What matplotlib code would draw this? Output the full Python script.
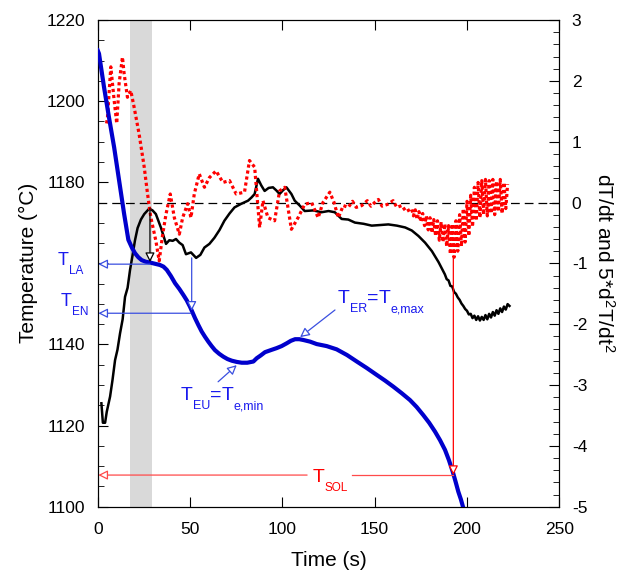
import matplotlib
matplotlib.use('Agg')
import matplotlib.pyplot as plt
from matplotlib.ticker import MultipleLocator
from matplotlib.transforms import blended_transform_factory

plt.rcParams['font.family'] = ['Liberation Sans', 'DejaVu Sans']
plt.rcParams['mathtext.fontset'] = 'custom'
plt.rcParams['mathtext.rm'] = 'Liberation Sans'
plt.rcParams['mathtext.it'] = 'Liberation Sans'
plt.rcParams['axes.unicode_minus'] = False

# temperature curve (left axis)
t_temp = [0.0, 0.7, 3.4, 6.1, 8.9, 11.6, 14.3, 16.6, 18.5, 20.2, 22.0, 23.8,
          26.0, 28.3, 31.0, 33.7, 35.6, 37.4, 39.6, 41.9, 44.2, 46.4, 48.2,
          50.0, 52.7, 54.5, 56.3, 58.1, 59.9, 61.7, 63.5, 65.8, 68.0, 70.3,
          72.6, 75.3, 78.0, 81.0, 84.3, 86.1, 88.3, 90.6, 93.7, 96.9, 99.6,
          102.4, 104.6, 106.9, 109.2, 111.4, 115.0, 118.6, 124.0, 129.4, 135.0,
          140.3, 145.7, 151.1, 155.6, 160.1, 164.6, 169.1, 172.7, 176.3, 179.5,
          182.7, 185.4, 188.1, 190.2, 192.3, 193.8, 195.3, 196.7, 198.0, 199.5]
temp = [1212.5, 1211.7, 1203.5, 1196.0, 1188.6, 1180.4, 1172.2, 1165.8,
        1163.9, 1162.5, 1161.5, 1160.8, 1160.4, 1160.2, 1159.9, 1159.6, 1159.2,
        1158.4, 1156.9, 1155.1, 1153.7, 1152.2, 1150.9, 1149.3, 1146.5, 1144.8,
        1143.2, 1141.9, 1140.7, 1139.6, 1138.6, 1137.7, 1137.0, 1136.4, 1136.0,
        1135.7, 1135.5, 1135.5, 1135.8, 1136.6, 1137.3, 1138.1, 1138.6, 1139.1,
        1139.6, 1140.3, 1140.9, 1141.3, 1141.3, 1141.1, 1140.7, 1140.1, 1139.6,
        1138.8, 1137.4, 1135.8, 1134.2, 1132.5, 1131.1, 1129.6, 1128.0, 1126.3,
        1124.6, 1122.6, 1120.7, 1118.5, 1116.4, 1114.0, 1111.5, 1108.6, 1106.2,
        1103.7, 1101.8, 1099.7, 1097.2]

# dT/dt (right axis)
t_rate = [2.0, 2.8, 4.0, 4.9, 6.7, 8.0, 9.4, 10.7, 12.1, 13.5, 14.8, 16.2, 17.5,
          18.8, 20.2, 21.6, 23.4, 25.2, 27.9, 29.7, 31.5, 34.2, 37.0, 38.8, 40.6,
          42.4, 44.2, 46.0, 47.8, 50.5, 53.3, 55.6, 57.8, 60.5, 63.2, 66.0, 68.6,
          71.4, 74.1, 77.8, 81.4, 83.2, 85.0, 86.8, 88.6, 90.4, 92.6, 94.9, 96.7,
          98.5, 100.3, 102.2, 104.9, 106.7, 109.4, 112.1, 116.7, 121.2, 125.0,
          128.4, 132.1, 135.7, 139.3, 144.0, 148.4, 153.0, 157.4, 162.0, 166.5,
          170.1, 173.7, 177.3, 181.0, 184.6, 188.0, 189.0, 190.0, 191.0, 192.0,
          193.0, 194.0, 195.0, 196.0, 197.0, 198.0, 199.0, 200.0, 201.0, 202.0,
          203.0, 204.0, 205.0, 206.0, 207.0, 208.0, 209.0, 210.0, 211.0, 212.0,
          213.0, 214.0, 215.0, 216.0, 217.0, 218.0, 219.0, 220.0, 221.0, 222.0,
          223.0]
rate = [-3.30, -3.62, -3.62, -3.44, -3.19, -2.92, -2.59, -2.42, -2.15, -1.92,
        -1.55, -1.40, -1.11, -0.88, -0.62, -0.42, -0.28, -0.19, -0.10, -0.13,
        -0.19, -0.41, -0.68, -0.62, -0.63, -0.60, -0.66, -0.70, -0.85, -0.82,
        -0.91, -0.86, -0.74, -0.68, -0.58, -0.45, -0.30, -0.18, -0.08, -0.02,
        0.03, 0.08, 0.14, 0.39, 0.28, 0.19, 0.24, 0.25, 0.20, 0.14, 0.20, 0.25,
        0.14, 0.03, -0.05, -0.14, -0.13, -0.16, -0.14, -0.16, -0.27, -0.28,
        -0.33, -0.35, -0.38, -0.37, -0.36, -0.38, -0.41, -0.46, -0.55, -0.66,
        -0.80, -0.98, -1.18, -1.26, -1.28, -1.37, -1.38, -1.47, -1.50, -1.56,
        -1.60, -1.66, -1.70, -1.75, -1.78, -1.84, -1.83, -1.90, -1.86, -1.93,
        -1.87, -1.94, -1.88, -1.93, -1.85, -1.92, -1.83, -1.89, -1.80, -1.86,
        -1.77, -1.83, -1.74, -1.80, -1.71, -1.76, -1.67, -1.70]

# 5*d2T/dt2 (right axis)
t_d2 = [4.8, 5.3, 7.1, 8.9, 10.3, 11.6, 13.4, 14.3, 16.1, 17.9, 19.7, 22.4, 25.2,
        27.0, 28.8, 31.5, 33.3, 35.2, 37.0, 39.3, 41.5, 44.2, 46.0, 48.7, 50.5,
        52.3, 55.0, 57.8, 60.5, 64.1, 67.8, 71.4, 75.0, 79.5, 82.2, 85.0, 87.7,
        89.5, 92.2, 95.8, 98.5, 101.3, 104.9, 108.5, 112.1, 115.8, 119.4, 122.0,
        125.7, 128.0, 130.3, 133.0, 135.7, 138.0, 140.0, 143.0, 146.0, 148.0,
        150.0, 152.0, 154.0, 157.0, 160.0, 162.0, 164.7, 167.0, 170.0, 171.0,
        172.0, 173.0, 174.0, 175.0, 176.0, 177.0, 178.0, 179.0, 180.0, 181.0,
        182.0, 183.0, 184.0, 185.0, 186.0, 187.0, 188.0, 189.0, 190.0, 191.0,
        192.0, 193.0, 194.0, 195.0, 196.0, 197.0, 198.0, 199.0, 200.0, 201.0,
        202.0, 203.0, 204.0, 205.0, 206.0, 207.0, 208.0, 209.0, 210.0, 211.0,
        212.0, 213.0, 214.0, 215.0, 216.0, 217.0, 218.0, 219.0, 220.0, 221.0,
        222.0]
d2 = [1.30, 1.40, 2.23, 1.68, 1.30, 1.96, 2.39, 2.12, 1.73, 1.84, 1.57, 1.13,
      0.58, 0.14, -0.25, -0.63, -0.96, -0.52, -0.19, 0.14, -0.25, -0.52, -0.25,
      -0.02, -0.25, 0.14, 0.47, 0.25, 0.41, 0.52, 0.33, 0.36, 0.14, 0.17, 0.69,
      0.58, -0.41, 0.03, -0.25, -0.30, 0.19, 0.25, -0.44, -0.25, -0.03, 0.00,
      -0.25, 0.00, 0.17, 0.00, -0.25, -0.05, -0.08, 0.02, -0.08, -0.05, 0.03,
      -0.06, 0.00, 0.05, -0.06, -0.03, 0.03, -0.08, -0.05, -0.15, -0.10, -0.22,
      -0.12, -0.28, -0.15, -0.32, -0.18, -0.38, -0.22, -0.45, -0.25, -0.50,
      -0.28, -0.55, -0.30, -0.62, -0.32, -0.65, -0.35, -0.72, -0.38, -0.85,
      -0.35, -0.90, -0.30, -0.80, -0.20, -0.72, -0.10, -0.65, 0.02, -0.55,
      0.12, -0.40, 0.25, -0.30, 0.33, -0.25, 0.36, -0.20, 0.38, -0.22, 0.36,
      -0.18, 0.38, -0.20, 0.35, -0.15, 0.38, -0.18, 0.33, -0.10, 0.30]

# ticks
x_ticks = [0, 50, 100, 150, 200, 250]
y_ticks = [1100, 1120, 1140, 1160, 1180, 1200, 1220]
y_tick_labels = ['1100', '1120', '1140', '', '1180', '1200', '1220']

# characteristic points
t_la, T_la = 28.3, 1159.8
y_la_start = -0.09
t_en, T_en = 50.9, 1147.7
y_en_start = -0.91
t_sol, T_sol = 192.6, 1107.8
y_sol_start = -0.88
t_er, T_er = 109.6, 1141.8
t_eu, T_eu = 75.3, 1134.9
band = (17.6, 29.2)
sol_gap = (113.4, 137.8)

BLUE = '#0000cc'
TBLUE = '#1a1aee'
ABLUE = '#3a4fe0'


def right_to_left(y):
    """Map right-axis value onto the temperature scale."""
    return 1100 + (y + 5) * 15.0


def sub_label(ax, xy, parts, color, xycoords='data'):
    """Write text pieces one after another, each (text, size, shift)."""
    renderer = ax.figure.canvas.get_renderer()
    x_off = 0.0
    for text, size, shift in parts:
        t = ax.annotate(text, xy=xy, xycoords=xycoords, xytext=(x_off, shift),
                        textcoords='offset points', fontsize=size, color=color,
                        ha='left', va='baseline', annotation_clip=False,
                        zorder=7)
        x_off += t.get_window_extent(renderer).width * 72.0 / ax.figure.dpi


fig = plt.figure(figsize=(6.32, 5.73), dpi=100)
ax = fig.add_axes([0.1546, 0.1157, 0.7304, 0.8494])
ax2 = ax.twinx()
ax.set_zorder(ax2.get_zorder() + 1)
ax.patch.set_visible(False)

ax.set_xlim(0, 250)
ax.set_ylim(1100, 1220)
ax2.set_ylim(-5, 3)

ax2.axvspan(band[0], band[1], color='#d9d9d9', lw=0, zorder=0)
ax2.axhline(0, color='black', lw=0.9, dashes=(7, 4), zorder=1)
ax2.plot(t_rate, rate, color='black', lw=1.8, zorder=3)
ax2.plot(t_d2, d2, color='red', lw=2.3, linestyle=(0, (1.0, 0.9)), zorder=4)
ax.plot(t_temp, temp, color=BLUE, lw=3.0, zorder=5)

head = dict(arrowstyle='-|>', fc='white', lw=0.9, mutation_scale=14,
            shrinkA=0, shrinkB=0)

# T_LA
ax.annotate('', xy=(t_la, T_la + 0.5), xytext=(t_la, right_to_left(y_la_start)),
            arrowprops=dict(head, ec='black', color='black'), zorder=6)
ax.annotate('', xy=(0.3, T_la), xytext=(t_la, T_la),
            arrowprops=dict(head, ec=ABLUE, color=ABLUE), zorder=6)
# T_EN
ax.annotate('', xy=(t_en, T_en + 0.6), xytext=(t_en, right_to_left(y_en_start)),
            arrowprops=dict(head, ec=ABLUE, color=ABLUE), zorder=6)
ax.annotate('', xy=(0.3, T_en), xytext=(t_en - 0.5, T_en),
            arrowprops=dict(head, ec=ABLUE, color=ABLUE), zorder=6)
# T_SOL
ax.annotate('', xy=(t_sol, T_sol), xytext=(t_sol, right_to_left(y_sol_start)),
            arrowprops=dict(head, ec='red', color='red'), zorder=6)
ax.annotate('', xy=(0.3, T_sol), xytext=(sol_gap[0], T_sol),
            arrowprops=dict(head, ec='#ff4a4a', color='#ff4a4a'), zorder=6)
ax.plot([sol_gap[1], t_sol], [T_sol, T_sol], color='#ff4a4a', lw=0.9, zorder=6)
sub_label(ax, (116.6, 1106.0), [('T', 14, 0), ('SOL', 8.5, -6)], 'red')
# T_ER / T_EU
ax.annotate('', xy=(t_er, T_er), xytext=(128.5, 1148.5),
            arrowprops=dict(head, ec=ABLUE, color=ABLUE), zorder=6)
sub_label(ax, (130.1, 1150.2),
          [('T', 14, 0), ('ER', 9, -6.5), ('=', 14, 0), ('T', 14, 0),
           ('e,max', 9, -6.5)], TBLUE)
ax.annotate('', xy=(t_eu, T_eu), xytext=(65.2, 1130.8),
            arrowprops=dict(head, ec=ABLUE, color=ABLUE), zorder=6)
sub_label(ax, (45.1, 1126.3),
          [('T', 14, 0), ('EU', 9, -6.5), ('=', 14, 0), ('T', 14, 0),
           ('e,min', 9, -6.5)], TBLUE)

trans = blended_transform_factory(ax.transAxes, ax.transData)
sub_label(ax, (-0.086, 1159.6), [('T', 13, 0), ('LA', 8.5, -6.5)], TBLUE,
          xycoords=trans)
sub_label(ax, (-0.0795, 1149.5), [('T', 13, 0), ('EN', 8.5, -6.5)], TBLUE,
          xycoords=trans)

ax.set_xticks(x_ticks)
ax.set_yticks(y_ticks)
ax.set_yticklabels(y_tick_labels)
ax.yaxis.set_minor_locator(MultipleLocator(5))
ax2.yaxis.set_major_locator(MultipleLocator(1))
ax2.yaxis.set_minor_locator(MultipleLocator(0.2))

ax.tick_params(axis='x', which='both', direction='in', labelsize=12.5,
               top=True, pad=11)
ax.tick_params(axis='y', which='both', direction='in', labelsize=12.5,
               right=False, pad=9)
ax.tick_params(which='major', length=7)
ax.tick_params(which='minor', length=4)
ax2.tick_params(axis='y', which='both', direction='in', labelsize=12.5, pad=9)
ax2.tick_params(which='major', length=7)
ax2.tick_params(which='minor', length=4)

ax.set_xlabel('Time (s)', fontsize=15, labelpad=10)
ax.set_ylabel('Temperature (\u00b0C)', fontsize=15, labelpad=6)
ax2.set_ylabel(r'dT/dt and 5*d$^2$T/dt$^2$', fontsize=15, rotation=-90,
               labelpad=20)

fig.savefig('out.png', dpi=100)
